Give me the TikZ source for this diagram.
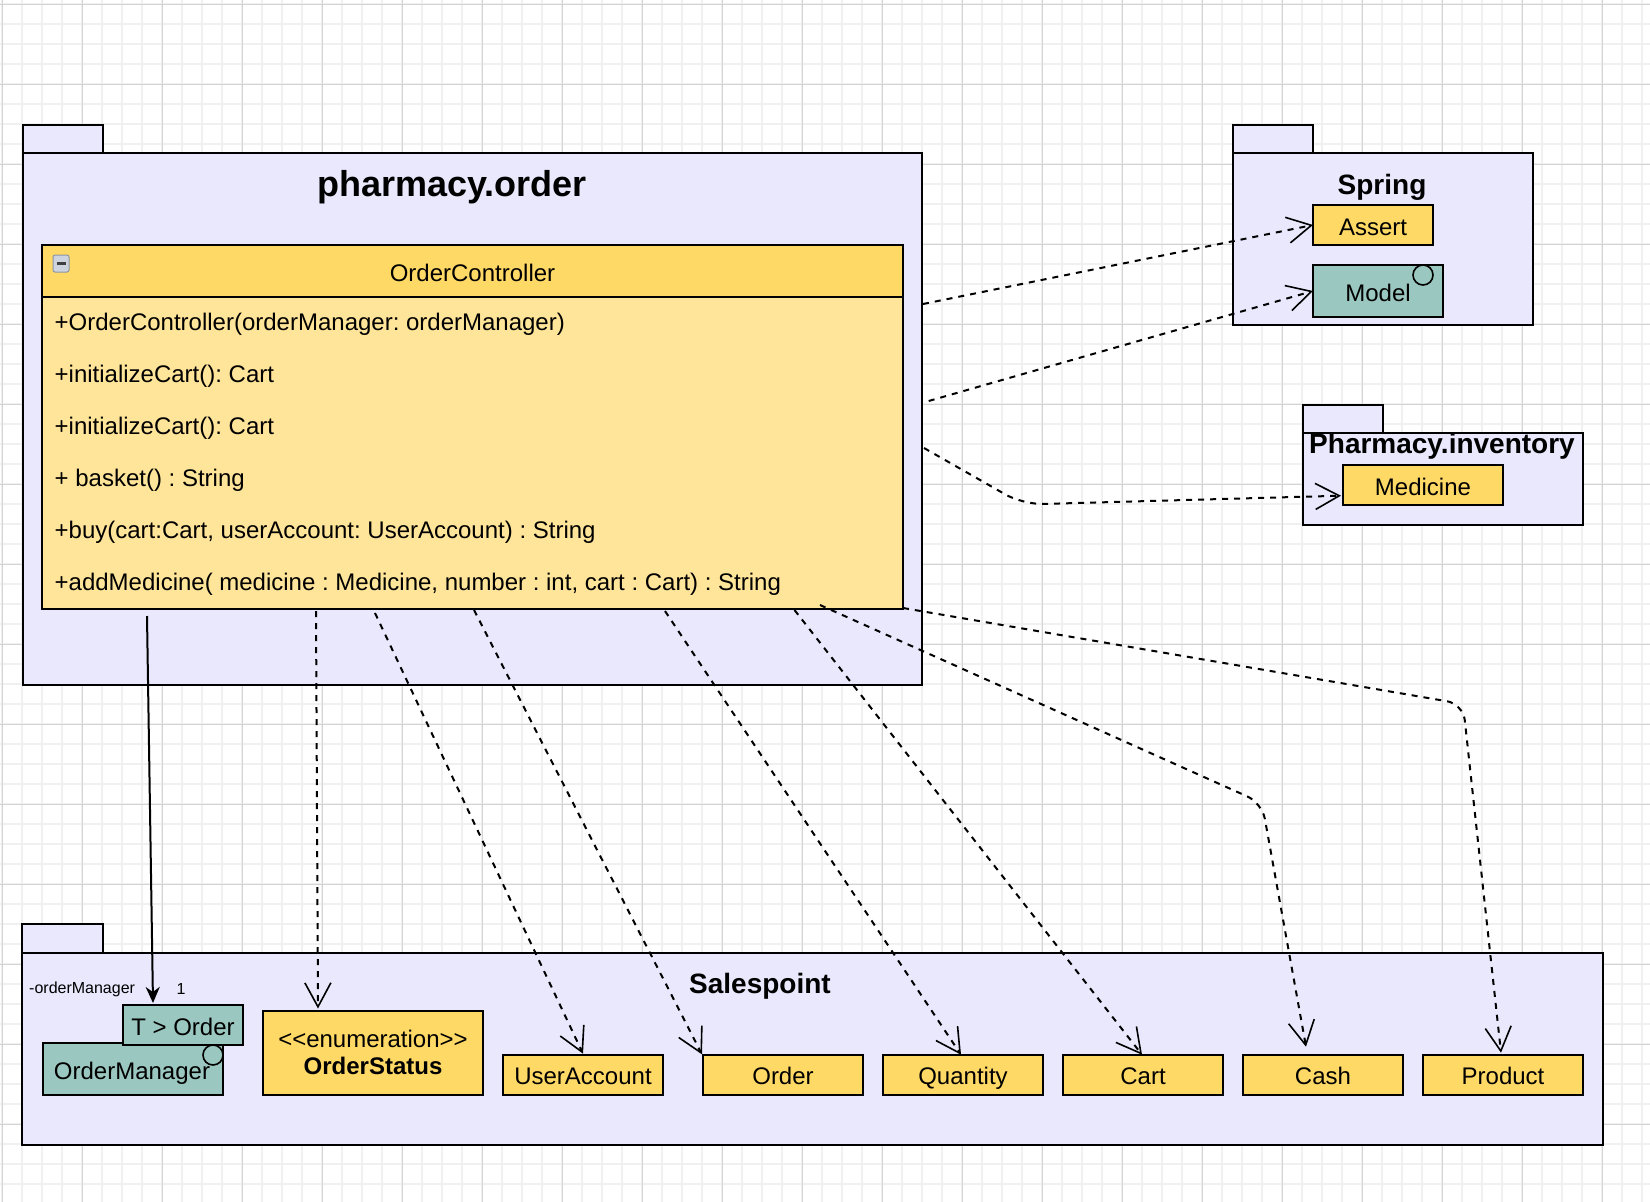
\documentclass[tikz,border=0pt]{standalone}
\usepackage{fontspec}
\setmainfont{Liberation Sans}
\usetikzlibrary{arrows.meta}
\definecolor{pkgfill}{RGB}{234,232,252}
\definecolor{hdr}{RGB}{255,217,102}
\definecolor{cbodyfill}{RGB}{255,229,153}
\definecolor{tealfill}{RGB}{154,199,191}
\definecolor{gmaj}{RGB}{212,212,212}
\definecolor{gmin}{RGB}{240,240,240}
\definecolor{iconfill}{RGB}{205,212,222}
\definecolor{iconline}{RGB}{140,150,165}
\begin{document}
\frenchspacing
\begin{tikzpicture}[x=1pt,y=-1pt,
  pkgbox/.style={draw, line width=2pt, fill=pkgfill, inner sep=0pt, outer sep=0pt, anchor=north west},
  pkglabel/.style={font=\bfseries\fontsize{28}{32}\selectfont, inner sep=0pt},
  ybox/.style={draw, line width=2pt, fill=hdr, inner sep=0pt, outer sep=0pt, minimum width=160pt, minimum height=40pt, text height=20pt, text depth=0pt, font=\fontsize{24}{28}\selectfont},
  tbox/.style={ybox, fill=tealfill},
  ifcircle/.style={draw, circle, line width=1.6pt, minimum size=20pt, inner sep=0pt},
  meth/.style={anchor=west, inner sep=0pt, font=\fontsize{24}{28}\selectfont},
  small/.style={inner sep=0pt, font=\fontsize{16}{18}\selectfont},
  dep/.style={draw, line width=2pt, dash pattern=on 6pt off 6pt, -{Straight Barb[length=24pt,width=26pt,line width=1.6pt]}},
  assoc/.style={draw, line width=2pt, -{Stealth[length=16pt,width=14pt,inset=5pt]}}
]
\useasboundingbox (0,0) rectangle (1650,1202);
\fill[white] (0,0) rectangle (1650,1202);
% grid
\foreach \x in {2,22,...,1650} \draw[gmin, line width=1.2pt] (\x,0) -- (\x,1202);
\foreach \y in {4,24,...,1202} \draw[gmin, line width=1.2pt] (0,\y) -- (1650,\y);
\foreach \x in {2,82,...,1650} \draw[gmaj, line width=1pt] (\x,0) -- (\x,1202);
\foreach \y in {4,84,...,1202} \draw[gmaj, line width=1pt] (0,\y) -- (1650,\y);

% ---------- package pharmacy.order ----------
\node[pkgbox, minimum width=80pt, minimum height=28pt] (tabOrder) at (23,125) {};
\node[pkgbox, minimum width=899pt, minimum height=532pt] (pkgOrder) at (23,153) {};
\node[font=\bfseries\fontsize{36}{40}\selectfont, inner sep=0pt] (tOrder) at (452,187) {pharmacy.order};

% class OrderController
\node[draw, line width=2pt, fill=hdr, inner sep=0pt, outer sep=0pt, anchor=north west,
      minimum width=861pt, minimum height=52pt, text height=20pt, text depth=0pt, font=\fontsize{24}{28}\selectfont] (chead) at (42,245) {OrderController};
\node[draw, line width=2pt, fill=cbodyfill, inner sep=0pt, outer sep=0pt, anchor=north west,
      minimum width=861pt, minimum height=312pt] (cbody) at (42,297) {};
\node[draw=iconline, line width=1pt, fill=iconfill, rounded corners=2pt, minimum width=16pt, minimum height=17pt, inner sep=0pt] (minus) at (61,263.5) {};
\draw[line width=3pt, black!75] ([xshift=-4.5pt]minus.center) -- ([xshift=4.5pt]minus.center);

\node[meth] (m1) at (54.5,324) {+OrderController(orderManager: orderManager)};
\node[meth] (m2) at (54.5,376) {+initializeCart(): Cart};
\node[meth] (m3) at (54.5,428) {+initializeCart(): Cart};
\node[meth] (m4) at (54.5,480) {+ basket() : String};
\node[meth] (m5) at (54.5,532) {+buy(cart:Cart, userAccount: UserAccount) : String};
\node[meth] (m6) at (54.5,584) {+addMedicine( medicine : Medicine, number : int, cart : Cart) : String};

% ---------- package Spring ----------
\node[pkgbox, minimum width=80pt, minimum height=28pt] (tabSpring) at (1233,124.7) {};
\node[pkgbox, minimum width=300pt, minimum height=172.3pt] (pkgSpring) at (1233,152.7) {};
\node[pkglabel] (tSpring) at (1382,187) {Spring};
\node[ybox, minimum width=120pt] (assert) at (1373,225) {Assert};
\node[tbox, minimum width=130pt, minimum height=52pt] (model) at (1378,291) {Model};
\node[ifcircle] (modelc) at (1423,275) {};

% ---------- package Pharmacy.inventory ----------
\node[pkgbox, minimum width=80pt, minimum height=27.7pt] (tabInv) at (1303,405) {};
\node[pkgbox, minimum width=280pt, minimum height=92.3pt] (pkgInv) at (1303,432.7) {};
\node[pkglabel] (tInv) at (1442,446.7) {Pharmacy.inventory};
\node[ybox] (medicine) at (1423,485) {Medicine};

% ---------- package Salespoint ----------
\node[pkgbox, minimum width=80.7pt, minimum height=28.4pt] (tabSales) at (22.3,924.3) {};
\node[pkgbox, minimum width=1580.5pt, minimum height=192.3pt] (pkgSales) at (22.3,952.7) {};
\node[pkglabel] (tSales) at (760,986.7) {Salespoint};

\node[tbox, minimum width=180pt, minimum height=52pt] (omgr) at (133,1069) {\hspace*{-2pt}OrderManager};
\node[tbox, minimum width=120pt, minimum height=40pt] (torder) at (183,1025) {T > Order};
\node[ifcircle] (omgrc) at (213,1055) {};
\node[draw, line width=2pt, fill=hdr, inner sep=0pt, outer sep=0pt, minimum width=220pt, minimum height=84pt] (ostatus) at (373,1053) {};
\node[inner sep=0pt, font=\fontsize{24}{28}\selectfont] (ostatusA) at (373,1039) {<\kern0pt<enumeration>\kern0pt>};
\node[inner sep=0pt, font=\bfseries\fontsize{24}{28}\selectfont] (ostatusB) at (373,1066) {OrderStatus};
\node[ybox] (ua) at (583,1074.7) {UserAccount};
\node[ybox] (orderbox) at (783,1074.7) {Order};
\node[ybox] (qty) at (963,1074.7) {Quantity};
\node[ybox] (cart) at (1143,1074.7) {Cart};
\node[ybox] (cash) at (1323,1074.7) {Cash};
\node[ybox] (product) at (1503,1074.7) {Product};

\node[small, anchor=west] (lblMgr) at (29,989) {-orderManager};
\node[small] (lblOne) at (181,989) {1};

% ---------- connectors ----------
\coordinate (wCash) at (1262,803);
\coordinate (wProd) at (1463,704);
\coordinate (wMed) at (1023,504.5);

\draw[assoc] ([xshift=105pt,yshift=-7pt]cbody.south west) -- ([xshift=-30pt,yshift=2pt]torder.north);
\draw[dep] ([xshift=274pt,yshift=-2pt]cbody.south west) -- ([xshift=-55pt,yshift=2.5pt]ostatus.north);
\draw[dep] ([xshift=333pt,yshift=-4pt]cbody.south west) -- ([yshift=1pt]ua.north);
\draw[dep] ([xshift=432pt,yshift=-1pt]cbody.south west) -- ([xshift=-1pt,yshift=0.3pt]orderbox.north west);
\draw[dep] ([xshift=623pt,yshift=-2pt]cbody.south west) -- ([xshift=-2pt]qty.north);
\draw[dep] ([xshift=752.5pt,yshift=-1pt]cbody.south west) -- ([xshift=-1pt]cart.north);
\draw[dep, rounded corners=16pt] ([xshift=778pt,yshift=4pt]cbody.south west) -- (wCash) -- ([xshift=-17pt,yshift=8pt]cash.north);
\draw[dep, rounded corners=16pt] ([yshift=1pt]cbody.south east) -- (wProd) -- ([xshift=-2pt,yshift=2pt]product.north);
\draw[dep] ([xshift=1pt,yshift=-151pt]pkgOrder.north east) -- (assert.west);
\draw[dep] ([xshift=6.7pt,yshift=-248pt]pkgOrder.north east) -- (model.west);
\draw[dep, rounded corners=20pt] ([xshift=2pt,yshift=-295pt]pkgOrder.north east) -- (wMed) -- ([xshift=-2pt,yshift=-10.7pt]medicine.west);
\end{tikzpicture}
\end{document}
